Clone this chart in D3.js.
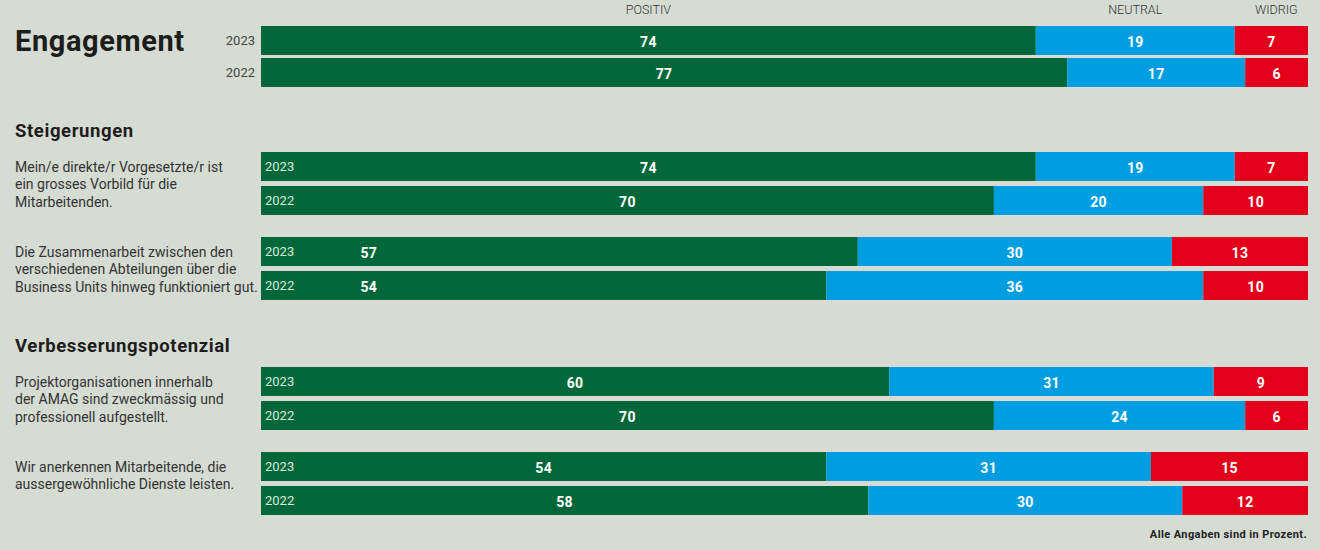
<!DOCTYPE html>
<html>
<head>
<meta charset="utf-8">
<script src="https://cdn.jsdelivr.net/npm/d3@7"></script>
<style>
  body { margin: 0; background: #d6dbd4; }
  svg { display: block; }
</style>
</head>
<body>
<svg id="chart" width="1320" height="550"></svg>
<script>
// ---- data ----
var categories = ["POSITIV", "NEUTRAL", "WIDRIG"];
var years = ["2023", "2022"];
var sections = ["Engagement", "Steigerungen", "Verbesserungspotenzial"];
// one entry per question, section index tells where it belongs
var questionSection = [0, 1, 1, 2, 2];
var questionText = [
    [],
    ["Mein/e direkte/r Vorgesetzte/r ist", "ein grosses Vorbild für die", "Mitarbeitenden."],
    ["Die Zusammenarbeit zwischen den", "verschiedenen Abteilungen über die", "Business Units hinweg funktioniert gut."],
    ["Projektorganisationen innerhalb", "der AMAG sind zweckmässig und", "professionell aufgestellt."],
    ["Wir anerkennen Mitarbeitende, die", "aussergewöhnliche Dienste leisten."]
];
// rows: question 0..4, each 2023 then 2022
var positiv = [74, 77, 74, 70, 57, 54, 60, 70, 54, 58];
var neutral = [19, 17, 19, 20, 30, 36, 31, 24, 31, 30];
var widrig  = [7, 6, 7, 10, 13, 10, 9, 6, 15, 12];
var footnote = "Alle Angaben sind in Prozent.";

var colors = ["#00673b", "#009ee0", "#e2001a"];

var svg = d3.select("#chart");
var W = 1320, H = 550;
svg.append("rect").attr("width", W).attr("height", H).attr("fill", "#d6dbd4");

var x = d3.scaleLinear().domain([0, 100]).range([261, 1308]);

// ---- layout: walk down the questions ----
var barH = 29;
var rows = [];
var pairTops = [];
var y = 26;
questionSection.forEach(function(s, q) {
    if (q > 0) {
        if (s != questionSection[q - 1]) y += (q == 1 ? 65 : 67); // room for section header
        else y += 22;
    }
    pairTops.push(y);
    var step = q == 0 ? 32 : 34;
    years.forEach(function(yr, k) {
        var i = q * 2 + k;
        rows.push({q: q, year: yr, top: y + k * step,
                   vals: [positiv[i], neutral[i], widrig[i]]});
    });
    y += step + barH;
});

// ---- bars ----
var row = svg.selectAll("g.row")
    .data(rows)
    .enter().append("g")
    .attr("class", "row")
    .attr("transform", function(d) { return "translate(0," + d.top + ")"; });

row.each(function(d) {
    var g = d3.select(this);
    var acc = 0;
    d.vals.forEach(function(v, c) {
        var x0 = x(acc), x1 = x(acc + v);
        g.append("rect")
            .attr("x", x0)
            .attr("y", 0)
            .attr("width", x1 - x0)
            .attr("height", barH)
            .attr("fill", colors[c]);
        var lx = (x0 + x1) / 2;
        // the two "Zusammenarbeit" rows put the positive value near the left
        if (c == 0 && d.q == 2) lx = x(10.3);
        g.append("text")
            .attr("x", lx)
            .attr("y", barH / 2 + 1)
            .attr("dy", ".36em")
            .attr("text-anchor", "middle")
            .style("font-family", "Roboto, sans-serif")
            .style("font-weight", "bold")
            .style("font-size", "14px")
            .style("letter-spacing", "0.3px")
            .style("fill", "#fff")
            .text(v);
        acc += v;
    });
    // year labels
    if (d.q == 0) {
        g.append("text")
            .attr("x", 255)
            .attr("y", barH / 2)
            .attr("dy", ".36em")
            .attr("text-anchor", "end")
            .style("font-family", "Roboto, sans-serif")
            .style("font-size", "13px")
            .style("fill", "#444")
            .text(d.year);
    } else {
        g.append("text")
            .attr("x", 265)
            .attr("y", barH / 2)
            .attr("dy", ".36em")
            .style("font-family", "Roboto, sans-serif")
            .style("font-size", "13px")
            .style("fill", "#d5ecdc")
            .text(d.year);
    }
});

// ---- category headers over the first row ----
var acc = 0;
categories.forEach(function(c, k) {
    var v = rows[0].vals[k];
    svg.append("text")
        .attr("x", (x(acc) + x(acc + v)) / 2 + (k == 2 ? 5 : 0))
        .attr("y", 14)
        .attr("text-anchor", "middle")
        .style("font-family", "Roboto, sans-serif")
        .style("font-weight", "300")
        .style("font-size", "12.5px")
        .style("fill", "#333")
        .text(c);
    acc += v;
});

// ---- titles ----
svg.append("text")
    .attr("x", 15)
    .attr("y", pairTops[0] + barH / 2)
    .attr("dy", ".36em")
    .style("font-family", "Roboto, sans-serif")
    .style("font-weight", "bold")
    .style("font-size", "29px")
    .style("letter-spacing", "0.6px")
    .style("fill", "#1d1d1b")
    .text(sections[0]);

questionSection.forEach(function(s, q) {
    if (q > 0 && s != questionSection[q - 1]) {
        svg.append("text")
            .attr("x", 15)
            .attr("y", pairTops[q] - 22)
            .attr("dy", ".36em")
            .style("font-family", "Roboto, sans-serif")
            .style("font-weight", "bold")
            .style("font-size", "18.5px")
            .style("letter-spacing", "0.6px")
            .style("fill", "#1d1d1b")
            .text(sections[s]);
    }
});

// ---- question texts ----
questionText.forEach(function(lines, q) {
    var t = svg.append("text")
        .attr("x", 15)
        .attr("y", pairTops[q] + barH / 2)
        .attr("dy", ".36em")
        .style("font-family", "Roboto, sans-serif")
        .style("font-size", "14px")
        .style("fill", "#333");
    lines.forEach(function(l, k) {
        t.append("tspan")
            .attr("x", 15)
            .attr("dy", k == 0 ? ".36em" : "17.5px")
            .text(l);
    });
});

// ---- footnote ----
svg.append("text")
    .attr("x", 1307)
    .attr("y", 538)
    .attr("text-anchor", "end")
    .style("font-family", "Roboto, sans-serif")
    .style("font-weight", "bold")
    .style("font-size", "11px")
    .style("letter-spacing", "0.4px")
    .style("fill", "#222")
    .text(footnote);
</script>
</body>
</html>
